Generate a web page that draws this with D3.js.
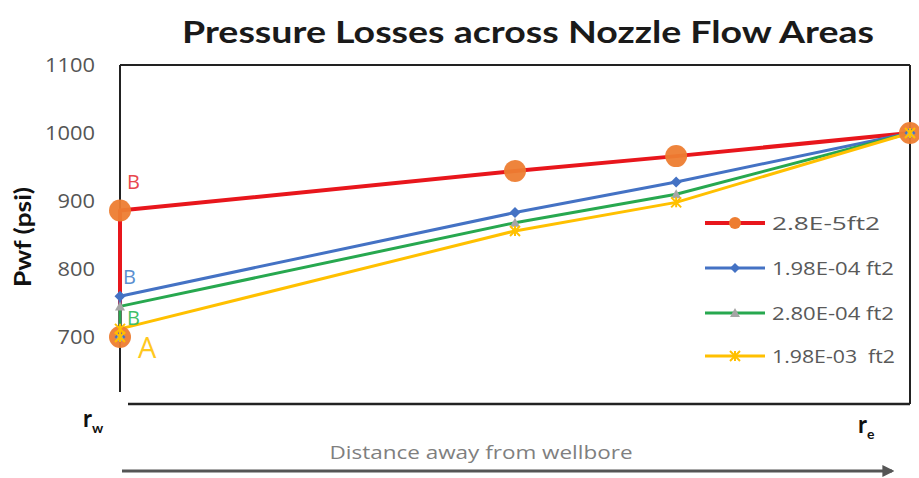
<!DOCTYPE html>
<html>
<head>
<meta charset="utf-8">
<script src="https://cdn.jsdelivr.net/npm/d3@7/dist/d3.min.js"></script>
<style>
  html, body { margin: 0; padding: 0; background: #fff; }
  svg { display: block; }
</style>
</head>
<body>
<svg id="chart" width="919" height="478"></svg>
<script>
// Relative distance from the wellbore (r_w = 0, r_e = 100)
const distance = [0, 0, 50, 70.4, 100];

// Flowing pressure (psi) for each nozzle flow area
const seriesNames = ["2.8E-5ft2", "1.98E-04 ft2", "2.80E-04 ft2", "1.98E-03  ft2"];
const pwfA = [700, 886, 944, 966, 1000];
const pwfB = [700, 760, 883, 928, 1000];
const pwfC = [700, 745, 868, 910, 1000];
const pwfD = [700, 712, 856, 898, 1000];

const yTicks = [700, 800, 900, 1000, 1100];
const title = "Pressure Losses across Nozzle Flow Areas";

const svg = d3.select("#chart");

const x = d3.scaleLinear().domain([0, 100]).range([120, 910]);
const y = d3.scaleLinear().domain([600, 1100]).range([405, 65]);

const styles = [
  { line: "#e8161c", width: 4, marker: "circle", fill: "#ed7d31", size: 11 },
  { line: "#4472c4", width: 3, marker: "diamond", fill: "#4472c4", size: 5.5 },
  { line: "#27a84f", width: 3, marker: "triangle", fill: "#a5a5a5", size: 5 },
  { line: "#ffc000", width: 3, marker: "star", fill: "#ffc000", size: 5 }
];
const values = [pwfA, pwfB, pwfC, pwfD];

// Title
svg.append("text")
  .attr("x", 528).attr("y", 43)
  .attr("text-anchor", "middle")
  .attr("font-family", "Lato, 'Open Sans', sans-serif")
  .attr("font-weight", 700)
  .attr("font-size", 30)
  .attr("textLength", 692)
  .attr("lengthAdjust", "spacingAndGlyphs")
  .attr("fill", "#1a1a1a")
  .text(title);

// Plot frame
const frame = svg.append("g").attr("stroke", "#222").attr("stroke-width", 2).attr("fill", "none");
frame.append("line").attr("x1", 120).attr("x2", 910).attr("y1", 65).attr("y2", 65);
frame.append("line").attr("x1", 120).attr("x2", 120).attr("y1", 65).attr("y2", 392);
frame.append("line").attr("x1", 910).attr("x2", 910).attr("y1", 65).attr("y2", 404);
frame.append("line").attr("x1", 128).attr("x2", 910).attr("y1", 404).attr("y2", 404).attr("stroke-width", 2.5);

// Y axis tick labels
const yAxis = d3.axisLeft(y).tickValues(yTicks).tickFormat(d3.format("d")).tickSize(0).tickPadding(0);
const gy = svg.append("g").attr("transform", "translate(95,0)").call(yAxis);
gy.select(".domain").remove();
gy.selectAll("text")
  .attr("font-family", "'Open Sans', sans-serif")
  .attr("font-size", 20)
  .attr("fill", "#555")
  .attr("textLength", d => String(d).length * 12.5)
  .attr("lengthAdjust", "spacingAndGlyphs");

// Y axis title
svg.append("text")
  .attr("transform", "translate(31,237) rotate(-90)")
  .attr("text-anchor", "middle")
  .attr("font-family", "Lato, 'Open Sans', sans-serif")
  .attr("font-weight", 700)
  .attr("font-size", 23)
  .attr("textLength", 100)
  .attr("lengthAdjust", "spacingAndGlyphs")
  .attr("fill", "#111")
  .text("Pwf (psi)");

// Series lines
const line = d3.line().x((d, i) => x(distance[i])).y(d => y(d));
values.forEach((vals, s) => {
  svg.append("path")
    .datum(vals)
    .attr("d", line)
    .attr("fill", "none")
    .attr("stroke", styles[s].line)
    .attr("stroke-width", styles[s].width)
    .attr("stroke-linejoin", "round");
});

function markerPath(type, r) {
  if (type === "circle") return d3.symbol(d3.symbolCircle, Math.PI * r * r)();
  if (type === "diamond") return `M0,${-r}L${r},0L0,${r}L${-r},0Z`;
  if (type === "triangle") return `M0,${-r}L${r},${r * 0.8}L${-r},${r * 0.8}Z`;
  return `M${-r},${-r}L${r},${r}M${-r},${r}L${r},${-r}M0,${-r}L0,${r}`;
}

// Series markers
values.forEach((vals, s) => {
  const st = styles[s];
  svg.append("g").selectAll("path")
    .data(vals)
    .join("path")
    .attr("transform", (d, i) => `translate(${x(distance[i])},${y(d)})`)
    .attr("d", markerPath(st.marker, st.size))
    .attr("fill", st.marker === "star" ? "none" : st.fill)
    .attr("stroke", st.marker === "star" ? st.fill : "none")
    .attr("stroke-width", 2)
    .attr("opacity", st.marker === "circle" ? 0.95 : 1);
});

// Point annotations at the wellbore
const notes = [
  { text: "B", v: pwfA[1], dx: 7, dy: -22, color: "#e8474d", size: 20 },
  { text: "B", v: pwfB[1], dx: 3, dy: -12, color: "#5b8fd0", size: 20 },
  { text: "B", v: pwfC[1], dx: 7, dy: 19, color: "#3fbf6a", size: 20 },
  { text: "A", v: pwfD[0], dx: 18, dy: 21, color: "#ffc81e", size: 29 }
];
notes.forEach(n => {
  svg.append("text")
    .attr("x", x(0) + n.dx).attr("y", y(n.v) + n.dy)
    .attr("font-family", "'Open Sans', sans-serif")
    .attr("font-size", n.size)
    .attr("fill", n.color)
    .text(n.text);
});

// Legend
const legend = svg.append("g");
const legendY = [223, 268, 313, 356];
const legendWidth = [108, 122, 122, 123];
seriesNames.forEach((name, s) => {
  const st = styles[s];
  const g = legend.append("g").attr("transform", `translate(0,${legendY[s]})`);
  g.append("line").attr("x1", 705).attr("x2", 765).attr("y1", 0).attr("y2", 0)
    .attr("stroke", st.line).attr("stroke-width", st.width);
  g.append("path").attr("transform", "translate(735,0)")
    .attr("d", markerPath(st.marker, st.marker === "circle" ? 6 : 5))
    .attr("fill", st.marker === "star" ? "none" : st.fill)
    .attr("stroke", st.marker === "star" ? st.fill : "none")
    .attr("stroke-width", 2);
  g.append("text").attr("x", 772).attr("y", 7)
    .attr("font-family", "'Open Sans', sans-serif")
    .attr("font-size", 19)
    .attr("fill", "#595959")
    .attr("xml:space", "preserve")
    .style("white-space", "pre")
    .attr("textLength", legendWidth[s])
    .attr("lengthAdjust", "spacingAndGlyphs")
    .text(name);
});

// Radial distance endpoints
function radius(xp, yp, sub) {
  const t = svg.append("text").attr("x", xp).attr("y", yp)
    .attr("font-family", "Lato, 'Open Sans', sans-serif")
    .attr("font-weight", 700).attr("fill", "#111");
  t.append("tspan").attr("font-size", 24).text("r");
  t.append("tspan").attr("font-size", 14).attr("dy", 6).text(sub);
}
radius(83, 427, "w");
radius(858, 433, "e");

// Distance arrow
svg.append("defs").append("marker")
  .attr("id", "arrowhead").attr("viewBox", "0 0 10 10")
  .attr("refX", 8).attr("refY", 5)
  .attr("markerWidth", 4).attr("markerHeight", 4).attr("orient", "auto")
  .append("path").attr("d", "M0,0L10,5L0,10Z").attr("fill", "#555");
svg.append("line")
  .attr("x1", 122).attr("x2", 892).attr("y1", 471).attr("y2", 471)
  .attr("stroke", "#555").attr("stroke-width", 3)
  .attr("marker-end", "url(#arrowhead)");
svg.append("text")
  .attr("x", 481).attr("y", 459)
  .attr("text-anchor", "middle")
  .attr("font-family", "'Open Sans', sans-serif")
  .attr("font-size", 19)
  .attr("textLength", 303)
  .attr("lengthAdjust", "spacingAndGlyphs")
  .attr("fill", "#7f7f7f")
  .text("Distance away from wellbore");
</script>
</body>
</html>
